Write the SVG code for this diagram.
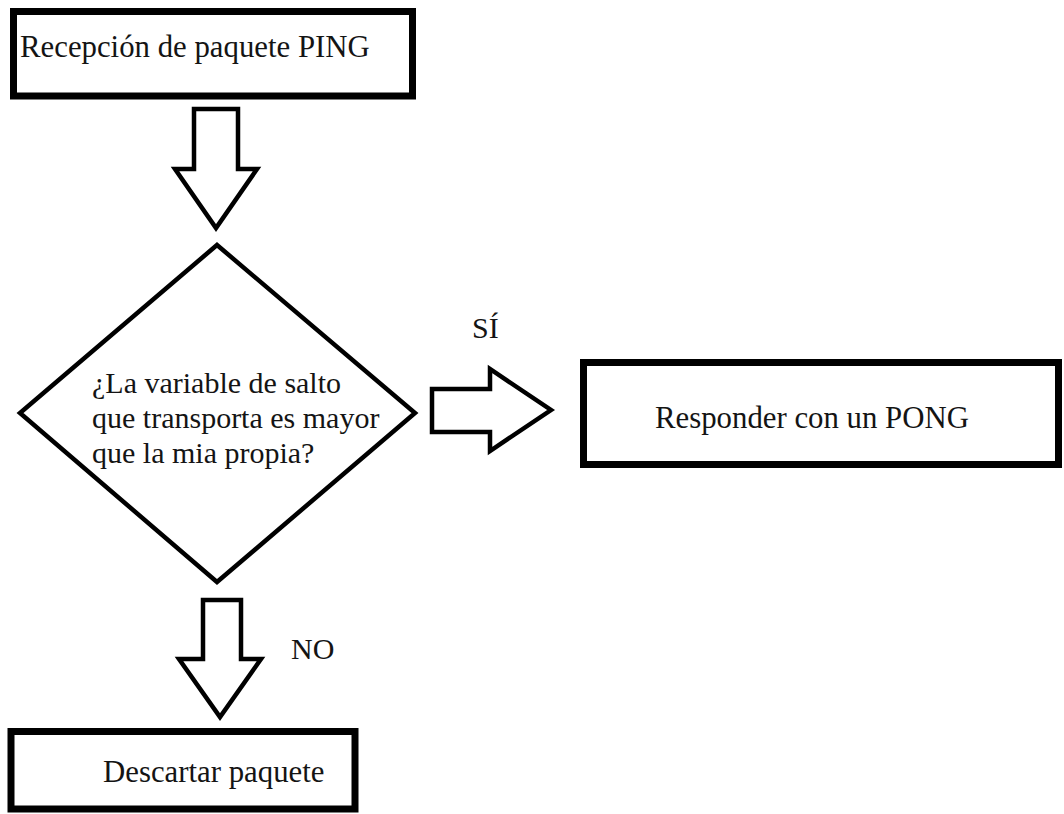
<svg xmlns="http://www.w3.org/2000/svg" width="1064" height="814" viewBox="0 0 1064 814">
  <style>
    .box { fill: #ffffff; stroke: #000000; stroke-width: 7; }
    .shape { fill: #ffffff; stroke: #000000; stroke-width: 4.5; stroke-linejoin: miter; }
    .label { font-family: "Liberation Serif", "Times New Roman", serif; font-size: 30px; fill: #141414; }
    .big { font-size: 30.8px; }
  </style>
  <rect width="1064" height="814" fill="#ffffff"/>

  <!-- Block arrows between steps -->
  <g id="connectors">
    <polygon class="shape" points="194,109 238,109 238,169 257,169 216,228 175,169 194,169"/>
    <polygon class="shape" points="432,389 490,389 490,369 551,410 490,451 490,432 432,432"/>
    <polygon class="shape" points="203,600 241,600 241,659 261,659 220,717 179,659 203,659"/>
    <text class="label" x="472" y="338">SÍ</text>
    <text class="label" x="291" y="659">NO</text>
  </g>

  <g id="recepcion">
    <rect class="box" x="13.5" y="11.5" width="399" height="84.5"/>
    <text class="label big" x="20" y="57">Recepción de paquete PING</text>
  </g>

  <g id="decision">
    <polygon class="shape" points="217,245 415,413 217,582 20,413"/>
    <text class="label" x="92" y="393">¿La variable de salto</text>
    <text class="label" x="92" y="428">que transporta es mayor</text>
    <text class="label" x="92" y="463">que la mia propia?</text>
  </g>

  <g id="responder">
    <rect class="box" x="583.5" y="362.5" width="475" height="102"/>
    <text class="label big" x="655" y="428">Responder con un PONG</text>
  </g>

  <g id="descartar">
    <rect class="box" x="11" y="731.5" width="344" height="77.5"/>
    <text class="label big" x="103" y="782">Descartar paquete</text>
  </g>
</svg>
